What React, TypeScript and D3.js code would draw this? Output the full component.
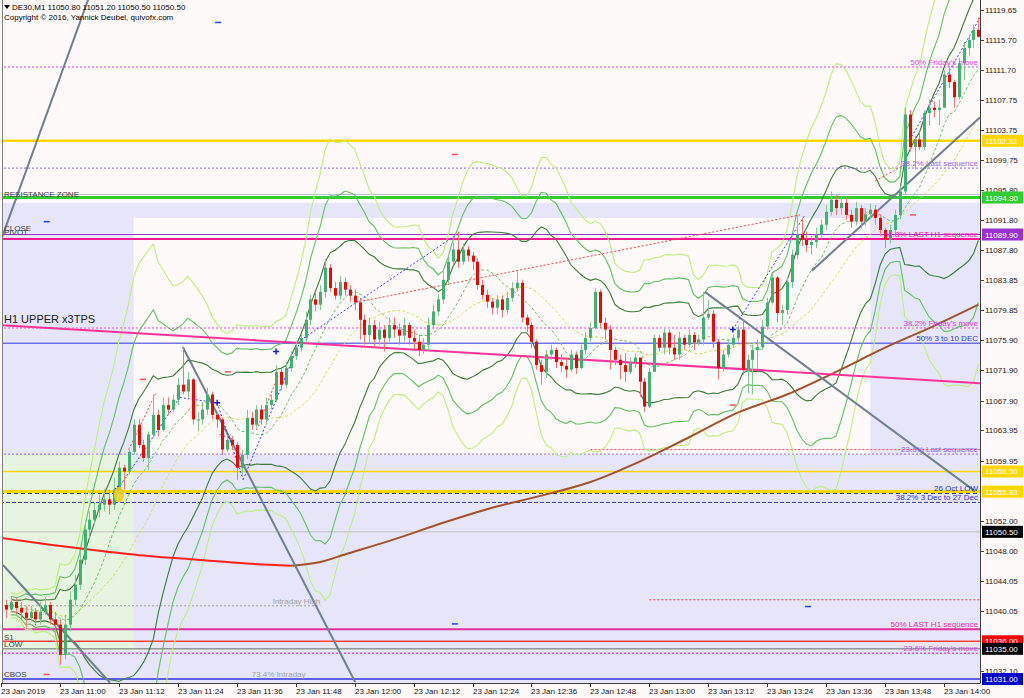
import React from "react";
import * as d3 from "d3";

// ---------- DATA ----------
const firstOpen = 11041.8;
const closes = [
  11040.8, 11040.2, 11041.2, 11040.4, 11039.8, 11039.1, 11039.9, 11038.9, 11039.9, 11040.8,
  11038.9, 11038.2, 11034.2, 11038.2, 11041.5, 11043.5, 11046.8, 11050.8, 11052.1, 11053.4,
  11054.1, 11054.8, 11054.1, 11056.1, 11059.0, 11058.5, 11061.1, 11064.7, 11062.0, 11060.3,
  11063.4, 11066.0, 11064.0, 11067.3, 11066.7, 11068.0, 11070.0, 11069.1, 11070.7, 11065.4,
  11065.4, 11066.7, 11068.7, 11066.0, 11065.4, 11061.4, 11062.7, 11062.0, 11059.0, 11060.7,
  11065.6, 11064.7, 11066.7, 11065.4, 11067.3, 11068.0, 11071.7, 11070.0, 11072.2, 11073.8,
  11074.9, 11076.2, 11078.6, 11081.3, 11080.6, 11082.3, 11085.5, 11082.8, 11081.8, 11083.6,
  11082.6, 11081.8, 11080.9, 11078.6, 11076.6, 11077.9, 11076.0, 11077.3, 11076.2, 11077.9,
  11077.3, 11076.5, 11077.9, 11076.2, 11075.7, 11074.6, 11075.3, 11077.9, 11079.7, 11081.3,
  11083.9, 11086.3, 11087.9, 11086.3, 11087.9, 11087.1, 11086.3, 11083.2, 11081.9, 11081.0,
  11080.2, 11081.3, 11079.9, 11081.5, 11082.8, 11083.5, 11078.9, 11077.9, 11075.7, 11072.6,
  11071.7, 11074.0, 11074.6, 11073.0, 11072.5, 11072.0, 11074.0, 11072.2, 11074.6, 11076.2,
  11077.5, 11082.3, 11078.2, 11077.3, 11074.6, 11073.3, 11072.6, 11071.7, 11073.0, 11073.6,
  11070.4, 11067.1, 11071.7, 11076.2, 11074.9, 11076.9, 11074.9, 11074.0, 11076.2, 11075.3,
  11076.6, 11075.6, 11076.0, 11078.9, 11079.4, 11075.7, 11072.2, 11074.0, 11075.3, 11076.2,
  11077.3, 11072.0, 11073.3, 11074.6, 11075.0, 11077.7, 11080.9, 11084.2, 11079.5, 11079.9,
  11083.6, 11087.2, 11089.9, 11089.2, 11088.5, 11088.9, 11089.9, 11091.2, 11092.9, 11094.5,
  11093.4, 11094.1, 11092.5, 11091.6, 11093.4, 11091.6, 11092.6, 11093.2, 11092.1, 11090.5,
  11089.2, 11090.5, 11092.5, 11095.6, 11105.8, 11101.5, 11102.5, 11101.5, 11106.0, 11106.7,
  11106.4, 11106.7, 11111.1, 11110.1, 11108.1, 11112.6, 11114.6, 11115.7, 11117.0, 11116.1,
];
const highs = [
  11042.2, 11041.5, 11041.9, 11041.8, 11041.2, 11040.7, 11040.7, 11040.4, 11041.2, 11041.8,
  11041.2, 11039.9, 11038.9, 11039.5, 11042.6, 11044.8, 11047.9, 11052.1, 11053.2, 11054.4,
  11055.4, 11056.1, 11056.1, 11057.7, 11059.8, 11059.4, 11061.6, 11065.4, 11065.4, 11062.7,
  11063.8, 11068.7, 11066.7, 11068.3, 11068.3, 11068.7, 11070.9, 11075.0, 11071.7, 11070.9,
  11066.4, 11067.7, 11069.6, 11069.1, 11066.4, 11065.6, 11063.4, 11063.2, 11062.4, 11061.4,
  11066.7, 11066.4, 11067.3, 11067.3, 11068.3, 11068.7, 11072.6, 11072.2, 11073.0, 11074.4,
  11075.7, 11076.7, 11079.7, 11081.9, 11082.3, 11083.2, 11086.6, 11086.0, 11083.6, 11084.4,
  11084.2, 11083.2, 11082.6, 11081.5, 11079.3, 11078.9, 11078.6, 11078.3, 11077.9, 11078.9,
  11078.9, 11078.1, 11078.9, 11078.3, 11077.3, 11076.6, 11076.2, 11078.9, 11080.6, 11082.0,
  11085.0, 11087.2, 11088.8, 11090.3, 11088.7, 11088.4, 11087.6, 11086.8, 11083.9, 11082.6,
  11081.5, 11081.9, 11081.8, 11082.3, 11083.6, 11085.0, 11083.9, 11079.3, 11078.3, 11076.0,
  11073.3, 11074.6, 11075.3, 11074.9, 11074.0, 11073.6, 11074.6, 11074.4, 11075.3, 11077.0,
  11078.3, 11082.8, 11082.6, 11078.9, 11077.9, 11075.0, 11074.0, 11074.2, 11073.6, 11074.1,
  11072.6, 11070.9, 11072.2, 11076.6, 11076.6, 11077.5, 11077.3, 11076.6, 11077.0, 11076.6,
  11077.3, 11077.0, 11076.6, 11082.3, 11081.2, 11079.9, 11076.0, 11074.6, 11076.0, 11076.7,
  11077.8, 11078.6, 11074.0, 11075.3, 11076.0, 11078.6, 11081.5, 11084.7, 11084.4, 11080.6,
  11084.2, 11087.9, 11092.5, 11092.1, 11090.3, 11089.7, 11090.8, 11091.9, 11093.8, 11095.6,
  11095.2, 11095.0, 11094.8, 11093.2, 11094.2, 11093.8, 11093.4, 11094.0, 11093.8, 11092.6,
  11090.8, 11091.2, 11093.2, 11096.4, 11106.7, 11106.4, 11103.0, 11103.5, 11106.4, 11107.8,
  11107.5, 11107.8, 11111.7, 11112.0, 11110.4, 11113.3, 11115.4, 11116.4, 11117.7, 11118.7,
];
const lows = [
  11039.5, 11039.1, 11039.9, 11039.5, 11038.9, 11037.8, 11038.6, 11038.1, 11038.2, 11039.5,
  11038.2, 11037.3, 11032.9, 11033.6, 11037.3, 11040.8, 11042.8, 11046.1, 11049.5, 11051.4,
  11052.4, 11053.2, 11052.8, 11053.4, 11055.4, 11056.1, 11058.1, 11060.7, 11061.6, 11059.8,
  11058.7, 11063.0, 11063.2, 11063.8, 11066.0, 11066.4, 11067.3, 11068.7, 11068.3, 11064.7,
  11063.8, 11064.7, 11066.0, 11065.4, 11064.3, 11060.7, 11061.1, 11061.4, 11057.4, 11058.1,
  11060.1, 11064.0, 11064.3, 11064.7, 11064.7, 11066.7, 11067.7, 11069.3, 11069.6, 11071.7,
  11073.3, 11074.4, 11075.7, 11077.9, 11079.7, 11079.9, 11081.5, 11082.3, 11081.3, 11081.3,
  11081.8, 11081.0, 11079.9, 11076.0, 11075.3, 11075.7, 11074.9, 11075.3, 11074.4, 11075.7,
  11076.2, 11075.3, 11075.7, 11075.3, 11074.6, 11073.8, 11074.1, 11074.6, 11077.3, 11079.1,
  11080.7, 11083.2, 11085.8, 11085.5, 11085.9, 11086.3, 11085.2, 11082.6, 11081.3, 11080.2,
  11079.3, 11079.3, 11078.9, 11079.3, 11081.0, 11082.3, 11078.3, 11077.0, 11074.9, 11072.0,
  11070.0, 11070.9, 11073.3, 11072.2, 11071.7, 11070.9, 11071.7, 11071.4, 11072.0, 11074.0,
  11075.7, 11077.3, 11077.5, 11076.0, 11072.0, 11072.6, 11070.7, 11070.4, 11071.4, 11072.2,
  11068.4, 11066.4, 11066.9, 11072.6, 11074.4, 11074.0, 11074.0, 11073.3, 11073.3, 11074.6,
  11074.9, 11074.6, 11075.2, 11075.3, 11078.6, 11074.9, 11070.7, 11071.7, 11073.6, 11074.9,
  11075.7, 11071.3, 11068.9, 11068.7, 11072.0, 11074.6, 11077.3, 11080.6, 11078.3, 11077.9,
  11079.3, 11082.8, 11086.6, 11088.4, 11087.6, 11087.2, 11088.1, 11089.2, 11090.5, 11092.4,
  11092.5, 11092.5, 11091.9, 11090.8, 11091.1, 11090.8, 11091.1, 11091.9, 11091.2, 11089.7,
  11088.1, 11088.7, 11089.9, 11091.9, 11095.2, 11100.9, 11098.5, 11101.1, 11101.1, 11104.3,
  11105.4, 11104.4, 11106.7, 11109.3, 11106.7, 11107.8, 11110.4, 11113.6, 11114.6, 11116.0,
];
const opens = closes.map((c, i) => (i === 0 ? firstOpen : closes[i - 1]));

// Bollinger settings of the chart's indicator
const bbPeriod = 20;
const bbDeviations = [2, 3, 4];
const fastMaPeriod = 10;

// moving average 200 (sampled by bar index)
const maIdx = [0, 10, 20, 30, 40, 50, 59, 65, 70, 80, 90, 100, 110, 120, 130, 140, 150, 160, 170, 180, 190, 199];
const maVals = [11049.7, 11048.8, 11048.0, 11047.3, 11046.8, 11046.3, 11046.0, 11046.5, 11047.5, 11049.5, 11051.7,
  11053.7, 11055.3, 11057.1, 11059.8, 11063.0, 11066.3, 11068.7, 11071.7, 11074.9, 11077.8, 11080.6];

// price axis tick labels
const priceTicks = [11119.65, 11115.70, 11111.70, 11107.75, 11103.75, 11099.75, 11095.80, 11091.80, 11087.80,
  11083.85, 11079.85, 11075.90, 11071.90, 11067.90, 11063.95, 11059.95, 11052.00, 11048.00, 11044.05,
  11040.05, 11032.10];
// time axis tick labels
const timeTicks = ["10:48", "11:00", "11:12", "11:24", "11:36", "11:48", "12:00", "12:12", "12:24", "12:36",
  "12:48", "13:00", "13:12", "13:24", "13:36", "13:48", "14:00"];
const timeTickLabels = ["23 Jan 2019", "23 Jan 11:00", "23 Jan 11:12", "23 Jan 11:24", "23 Jan 11:36",
  "23 Jan 11:48", "23 Jan 12:00", "23 Jan 12:12", "23 Jan 12:24", "23 Jan 12:36", "23 Jan 12:48",
  "23 Jan 13:00", "23 Jan 13:12", "23 Jan 13:24", "23 Jan 13:36", "23 Jan 13:48", "23 Jan 14:00"];

// tagged horizontal levels (with right axis label)
const tagPrices = [11102.32, 11094.80, 11089.90, 11058.50, 11055.83, 11050.50, 11036.00, 11035.00, 11031.00];
// fib / text levels
const fibPrices = [11112.1, 11098.7, 11089.3, 11077.5, 11075.5, 11060.8, 11055.6, 11054.4, 11037.6, 11034.4];
const fibTexts = ["50%   Friday's move", "38.2% Last sequence", "61.8% LAST H1 sequence", "38.2% Friday's move",
  "50%  3 to 10 DEC", "23.6%  Last sequence", "26 Oct LOW", "38.2%  3 Dec to 27 Dec", "50%  LAST H1 sequence",
  "23.6%  Friday's move"];
const resistanceLine = 11095.2;
const intradayHigh = 11040.7;
const redDotted1 = 11061.4;
const redDotted2 = 11041.5;

// left side labels
const leftLabelTexts = ["RESISTANCE ZONE", "CLOSE", "PIVOT", "S1", "LOW", "CBOS"];
const leftLabelPrices = [11094.9, 11090.3, 11089.9, 11036.2, 11035.2, 11031.2];

// trend lines: [i1, p1, i2, p2]
const grayTrends = [
  [0, 11089.2, 18, 11121.5],
  [37, 11075.0, 72.1, 11030.6],
  [0.4, 11046.1, 22.2, 11030.5],
  [143.3, 11082.3, 198.3, 11055.9],
  [165.1, 11085.1, 199.3, 11105.4],
];
const pinkTrend = [-0.2, 11077.9, 199.3, 11070.2];
const redDottedTrends = [
  [72.1, 11080.9, 162.7, 11092.5],
  [26, 11061.4, 31.5, 11068.9],
  [44.5, 11063.4, 47.5, 11062.7],
  [52, 11064.0, 56.5, 11071.3],
  [178, 11097.0, 185, 11099.5],
];
const blueDottedTrends = [
  [23.8, 11056.2, 36.4, 11068.3],
  [36.4, 11068.3, 44, 11067.6],
  [44, 11067.6, 49.3, 11057.4],
  [49.3, 11057.4, 61, 11075.9],
  [61, 11075.9, 93.5, 11090.2],
  [149, 11077.3, 163.7, 11092.5],
  [185, 11102.4, 199.3, 11118.6],
];
// small arrow markers: bar index, price
const blueDashIdx = [44.2, 9.3, 164.3, 92.4];
const blueDashPx = [11118.0, 11091.6, 11040.6, 11038.3];
const redDashIdx = [185.7, 9.3, 149, 28.9, 46.2, 92.4];
const redDashPx = [11092.5, 11031.6, 11067.3, 11070.7, 11071.7, 11100.5];
const blueCrossIdx = [23.8, 44, 56, 149];
const blueCrossPx = [11056.2, 11067.6, 11074.4, 11077.3];

// background zones: [i1, p1, i2, p2]
const lavenderZone = [-1, 11094.1, 201, 11028];
const whiteZone = [27, 11092.1, 177, 11060.7];
const greenZone = [-1, 11060.7, 27, 11034.9];

// ---------- CHART ----------
const W = 1024, H = 698;
const PR = 980, PB = 683;
const T0 = new Date(2019, 0, 23, 10, 48).getTime();
const tAt = (i: number) => new Date(T0 + i * 60000);

function rolling(period: number, firstBar: number) {
  const out: { i: number; mean: number; sd: number }[] = [];
  for (let i = firstBar; i < closes.length; i++) {
    const w = closes.slice(Math.max(0, i - period + 1), i + 1);
    const m = d3.mean(w) as number;
    const sd = Math.sqrt(d3.mean(w, (v) => (v - m) * (v - m)) as number);
    out.push({ i, mean: m, sd });
  }
  return out;
}

export default function App() {
  const x = d3.scaleTime()
    .domain([new Date(2019, 0, 23, 11, 0), new Date(2019, 0, 23, 14, 0)])
    .range([60, 944]);
  const y = d3.scaleLinear().domain([11031, 11119.65]).range([679, 10]);
  const xi = (i: number) => x(tAt(i));
  const font = "'Liberation Sans', Arial, sans-serif";

  const minK = maVals.indexOf(d3.min(maVals) as number);
  const maFall = maVals.slice(0, minK + 1);
  const maRise = maVals.slice(minK);
  const maFallPath = d3.line<number>().x((_, k) => xi(maIdx[k])).y((v) => y(v)).curve(d3.curveMonotoneX)(maFall);
  const maRisePath = d3.line<number>().x((_, k) => xi(maIdx[k + minK])).y((v) => y(v)).curve(d3.curveMonotoneX)(maRise);

  const bb = rolling(bbPeriod, 2);
  const fast = rolling(fastMaPeriod, 2);
  const pl = (f: (r: { i: number; mean: number; sd: number }) => number) =>
    d3.line<{ i: number; mean: number; sd: number }>().x((r) => xi(r.i)).y((r) => y(f(r)));
  const bandColors = ["#3B7B3B", "#62C062", "#BDEF7C"];

  const tagStyles = [
    { c: "#FFD700", w: 2.5, box: "#FFD700", t: "#FFFFFF" },
    { c: "#32CD32", w: 3, box: "#32CD32", t: "#FFFFFF" },
    { c: "#9932CC", w: 1, box: "#9932CC", t: "#FFFFFF" },
    { c: "#FFD700", w: 1.5, box: "#FFD700", t: "#FFFFFF" },
    { c: "#FFD700", w: 3, box: "#FFD700", t: "#FFFFFF" },
    { c: "#C0C0C0", w: 1, box: "#000000", t: "#FFFFFF" },
    { c: "#FF4040", w: 1.5, box: "#FF0000", t: "#FFFFFF" },
    { c: "#707070", w: 1, box: "#000000", t: "#FFFFFF" },
    { c: "#3030E0", w: 1.5, box: "#0000CC", t: "#FFFFFF" },
  ];
  const fibStyles = [
    { c: "#E040E0", dash: "2,2", w: 1, tc: "#E040E0" },
    { c: "#9966EE", dash: "2,2", w: 1, tc: "#9966EE" },
    { c: "#FF1493", dash: "", w: 2, tc: "#FF1493" },
    { c: "#EE82EE", dash: "2,2", w: 1.5, tc: "#E040E0" },
    { c: "#3333DD", dash: "", w: 1, tc: "#3333DD" },
    { c: "#9966EE", dash: "2,2", w: 1, tc: "#9966EE" },
    { c: "#1E1E90", dash: "4,3", w: 1, tc: "#3030D0" },
    { c: "#3333DD", dash: "4,2", w: 1, tc: "#3333DD" },
    { c: "#E0309F", dash: "", w: 2, tc: "#E0309F" },
    { c: "#EE55EE", dash: "2,2", w: 1.5, tc: "#E040E0" },
  ];

  const bull = "#3CB371", bear = "#FF0000";

  return (
    <svg width={W} height={H} style={{ display: "block", position: "absolute", left: 0, top: 0, background: "#FFFAFA" }}>
      <defs>
        <clipPath id="plot"><rect x={2} y={0} width={PR - 2} height={PB} /></clipPath>
      </defs>
      <rect x={0} y={0} width={W} height={H} fill="#FFFAFA" />
      <g clipPath="url(#plot)">
        <rect x={xi(lavenderZone[0])} y={y(lavenderZone[1])} width={xi(lavenderZone[2]) - xi(lavenderZone[0])}
          height={y(lavenderZone[3]) - y(lavenderZone[1])} fill="#E6E6F8" />
        <rect x={xi(whiteZone[0])} y={y(whiteZone[1])} width={xi(whiteZone[2]) - xi(whiteZone[0])}
          height={y(whiteZone[3]) - y(whiteZone[1])} fill="#FFFAFA" />
        <rect x={xi(greenZone[0])} y={y(greenZone[1])} width={xi(greenZone[2]) - xi(greenZone[0])}
          height={y(greenZone[3]) - y(greenZone[1])} fill="#E6F4E0" />

        {/* horizontal levels */}
        <line x1={0} x2={PR} y1={y(resistanceLine)} y2={y(resistanceLine)} stroke="#B0C4DE" strokeWidth={1} />
        {fibPrices.map((p, k) => (
          <line key={"f" + k} x1={0} x2={PR} y1={y(p)} y2={y(p)} stroke={fibStyles[k].c}
            strokeWidth={fibStyles[k].w} strokeDasharray={fibStyles[k].dash} />
        ))}
        {tagPrices.map((p, k) => (
          <line key={"t" + k} x1={0} x2={PR} y1={y(p)} y2={y(p)} stroke={tagStyles[k].c} strokeWidth={tagStyles[k].w} />
        ))}
        <line x1={0} x2={xi(65)} y1={y(intradayHigh)} y2={y(intradayHigh)} stroke="#A0A0A0" strokeDasharray="2,2" />
        <line x1={xi(120)} x2={PR} y1={y(redDotted1)} y2={y(redDotted1)} stroke="#FF4040" strokeDasharray="2,2" />
        <line x1={xi(132)} x2={PR} y1={y(redDotted2)} y2={y(redDotted2)} stroke="#FF4040" strokeDasharray="2,2" />

        {/* Bollinger bands (20; 2, 3, 4 deviations) and averages */}
        {bbDeviations.map((dv, k) => (
          <g key={"bb" + k}>
            <path d={pl((r) => r.mean + dv * r.sd)(bb) || ""} fill="none" stroke={bandColors[k]} strokeWidth={1.1} />
            <path d={pl((r) => r.mean - dv * r.sd)(bb) || ""} fill="none" stroke={bandColors[k]} strokeWidth={1.1} />
          </g>
        ))}
        <path d={pl((r) => r.mean)(bb) || ""} fill="none" stroke="#D2E05A" strokeWidth={1} strokeDasharray="3,2" />
        <path d={pl((r) => r.mean)(fast) || ""} fill="none" stroke="#6CC46C" strokeWidth={1} strokeDasharray="3,2" />

        {/* MA 200 */}
        <path d={maFallPath || ""} fill="none" stroke="#FF2020" strokeWidth={2} />
        <path d={maRisePath || ""} fill="none" stroke="#A0522D" strokeWidth={2} />

        {/* trend lines */}
        <line x1={xi(pinkTrend[0])} y1={y(pinkTrend[1])} x2={xi(pinkTrend[2])} y2={y(pinkTrend[3])}
          stroke="#FF3399" strokeWidth={2} />
        {grayTrends.map((t, k) => (
          <line key={"g" + k} x1={xi(t[0])} y1={y(t[1])} x2={xi(t[2])} y2={y(t[3])} stroke="#708090" strokeWidth={2} />
        ))}
        {redDottedTrends.map((t, k) => (
          <line key={"r" + k} x1={xi(t[0])} y1={y(t[1])} x2={xi(t[2])} y2={y(t[3])} stroke="#FF4040" strokeDasharray="2,2" />
        ))}
        {blueDottedTrends.map((t, k) => (
          <line key={"b" + k} x1={xi(t[0])} y1={y(t[1])} x2={xi(t[2])} y2={y(t[3])} stroke="#3040FF" strokeDasharray="2,2" />
        ))}

        {/* candles */}
        {closes.map((c, i) => {
          const o = opens[i];
          const up = c >= o;
          const cx = Math.round(xi(i));
          const top = y(Math.max(o, c));
          const bot = y(Math.min(o, c));
          return (
            <g key={"c" + i}>
              <line x1={cx + 0.5} x2={cx + 0.5} y1={y(highs[i])} y2={y(lows[i])} stroke={up ? "#80C890" : "#FF7070"} strokeWidth={1} />
              <rect x={cx - 1} y={top} width={3} height={Math.max(1, bot - top)} fill={up ? bull : bear} />
            </g>
          );
        })}

        {/* markers */}
        {blueDashIdx.map((v, k) => (
          <line key={"bd" + k} x1={xi(v) - 3} x2={xi(v) + 3} y1={y(blueDashPx[k])} y2={y(blueDashPx[k])} stroke="#2040FF" strokeWidth={1.5} />
        ))}
        {redDashIdx.map((v, k) => (
          <line key={"rd" + k} x1={xi(v) - 3} x2={xi(v) + 3} y1={y(redDashPx[k])} y2={y(redDashPx[k])} stroke="#FF5050" strokeWidth={1.5} />
        ))}
        {blueCrossIdx.map((v, k) => (
          <path key={"bc" + k} d={`M${xi(v) - 3},${y(blueCrossPx[k])}h6M${xi(v)},${y(blueCrossPx[k]) - 3}v6`} stroke="#1020E0" strokeWidth={1.5} />
        ))}
        <ellipse cx={xi(24)} cy={y(11055.4)} rx={5} ry={8} fill="#E8D020" opacity={0.9} />

        {/* texts in plot */}
        {fibPrices.map((p, k) => (
          <text key={"ft" + k} x={978} y={y(p) - 2} textAnchor="end" fontFamily={font} fontSize={8} fill={fibStyles[k].tc}>
            {fibTexts[k]}
          </text>
        ))}
        <text x={xi(65)} y={y(intradayHigh) - 2} textAnchor="end" fontFamily={font} fontSize={8} fill="#A0A0A0">Intraday High</text>
        <text x={xi(62)} y={y(11031) - 2} textAnchor="end" fontFamily={font} fontSize={8} fill="#A0A0A0">73.4%  Intraday</text>
        {leftLabelTexts.map((t, k) => (
          <text key={"l" + k} x={4} y={y(leftLabelPrices[k])} fontFamily={font} fontSize={8} fill="#404040">{t}</text>
        ))}
        <text x={4} y={y(11077.9) - 2} fontFamily={font} fontSize={11} fill="#202020">H1 UPPER x3TPS</text>
      </g>

      {/* frame */}
      <line x1={2.5} x2={2.5} y1={0} y2={PB} stroke="#808080" />
      <line x1={PR + 0.5} x2={PR + 0.5} y1={0} y2={PB + 0.5} stroke="#404040" />
      <line x1={2} x2={PR} y1={PB + 0.5} y2={PB + 0.5} stroke="#404040" />

      {/* price axis */}
      {priceTicks.map((p) => (
        <g key={"pt" + p}>
          <line x1={PR} x2={PR + 4} y1={Math.round(y(p)) + 0.5} y2={Math.round(y(p)) + 0.5} stroke="#404040" />
          <text x={985} y={y(p) + 3} fontFamily={font} fontSize={8} fill="#202020">{p.toFixed(2)}</text>
        </g>
      ))}
      {tagPrices.map((p, k) => (
        <g key={"tb" + k}>
          <rect x={982} y={y(p) - 6} width={41} height={12} fill={tagStyles[k].box} />
          <text x={985} y={y(p) + 3} fontFamily={font} fontSize={8} fill={tagStyles[k].t}>{p.toFixed(2)}</text>
        </g>
      ))}

      {/* time axis */}
      {timeTicks.map((t, k) => {
        const [hh, mm] = t.split(":").map(Number);
        const tx = Math.round(x(new Date(2019, 0, 23, hh, mm)));
        return (
          <g key={"tt" + k}>
            <line x1={tx + 0.5} x2={tx + 0.5} y1={PB} y2={PB + 4} stroke="#404040" />
            <text x={tx} y={694} fontFamily={font} fontSize={8} fill="#202020">{timeTickLabels[k]}</text>
          </g>
        );
      })}

      {/* header */}
      <path d="M4,5 L10,5 L7,9 Z" fill="#000" />
      <text x={12} y={10} fontFamily={font} fontSize={8} fill="#000">DE30,M1  11050.80 11051.20 11050.50 11050.50</text>
      <text x={4} y={20} fontFamily={font} fontSize={8} fill="#000">Copyright © 2016, Yannick Deubel, quivofx.com</text>
    </svg>
  );
}
